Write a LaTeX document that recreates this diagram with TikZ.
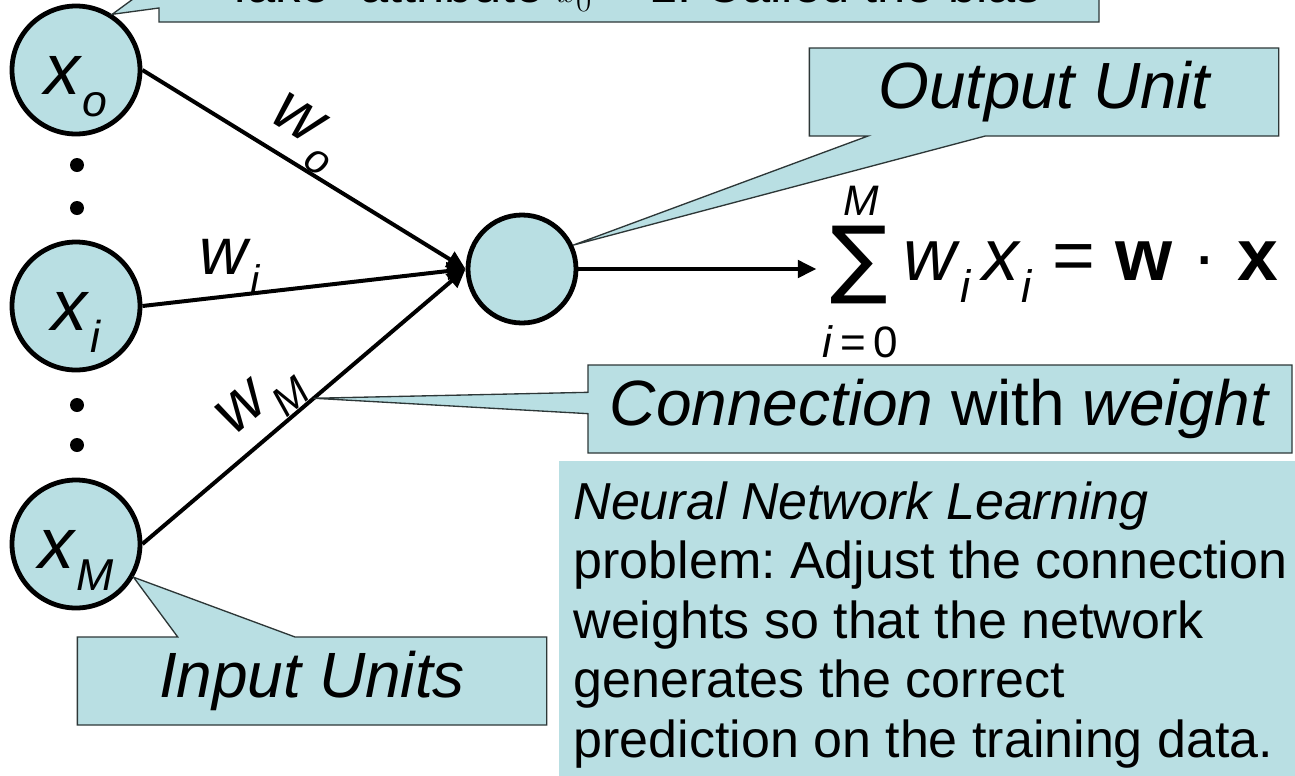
\documentclass[tikz,border=0pt]{standalone}
\usepackage{fontspec}
\usepackage{graphicx}
\setmainfont{Liberation Sans}
\newfontfamily\sigmafont{DejaVu Sans}
\usetikzlibrary{shapes.callouts,arrows.meta}
\definecolor{unitblue}{RGB}{185,223,227}
\definecolor{noteedge}{RGB}{45,55,55}
\newcommand\lowsub[1]{\raisebox{-0.3em}{\scalebox{0.62}{\itshape #1}}}
\frenchspacing

\tikzset{every picture/.style={line width=0.75pt}}
\tikzset{
	unit/.style={circle, draw=black, line width=3.6pt, fill=unitblue, minimum size=96pt, inner sep=0pt, text height=38pt, text depth=1pt, font=\fontsize{54}{60}\selectfont},
	note/.style={rectangle callout, draw=noteedge, fill=unitblue, line width=1pt, inner sep=0pt},
	link/.style={line width=3pt, -{Triangle[length=14pt,width=13pt]}},
	wlabel/.style={font=\fontsize{50}{56}\selectfont, inner sep=0pt}}

\begin{document}
\begin{tikzpicture}[x=0.75pt,y=0.75pt,yscale=-1,xscale=1]
	\useasboundingbox (0,0) rectangle (1295,775);
	\clip (0,0) rectangle (1295,775);

	%Shape: Rectangle [learning note, runs off the page]
	\node[fill=unitblue, inner sep=0pt, minimum width=555pt, minimum height=240pt, anchor=north west] (learnbox) at (558,460) {};
	% Text Node
	\node[anchor=north west, align=left, inner sep=0pt, font=\fontsize{39}{44.6}\selectfont] (learntext) at (573,481) {\textit{Neural Network Learning}\\problem: Adjust the connection\\weights so that the network\\generates the correct\\prediction on the training data.};

	%Shape: Circle [input and output units]
	\node[unit] (xo) at (76,70) {\textit{x}\lowsub{o}};
	\node[unit] (xi) at (76,306) {\textit{x}\lowsub{i}};
	\node[unit] (xM) at (76,544) {\textit{x}\lowsub{M}};
	\node[unit, minimum size=81pt] (out) at (522,269) {};
	% dots between the inputs
	\foreach \y in {165,208,405,445}
		\fill (77,\y) circle (7);

	%Straight Lines [weighted connections]
	\draw[link] (xo.east) -- node[wlabel, rotate=-32, anchor=south, pos=0.45] (wo) {\textit{w}\lowsub{o}} (out.west);
	\draw[link] (xi.east) -- node[wlabel, anchor=south, pos=0.27] (wi) {\textit{w}\lowsub{i}} (out.west);
	\draw[link] (xM.east) -- node[wlabel, rotate=40, anchor=south, pos=0.43] (wM) {\textit{w}\lowsub{M}} coordinate[pos=0.53] (wMtip) (out.west);

	% Text Node [weighted sum]
	\node[inner xsep=10pt, inner ysep=0pt] (sigma) at (859,265) {\fontsize{64}{70}\sigmafont\selectfont ∑};
	\node[inner sep=0pt, font=\fontsize{32}{36}\selectfont\itshape] (upper) at (861,201) {M};
	\node[inner sep=0pt, font=\fontsize{33}{36}\selectfont] (lower) at (860,342) {\textit{i}\,=\,0};
	\node[anchor=base west, inner sep=0pt, font=\fontsize{55}{60}\selectfont] (sumtext) at (903,280) {\textit{w}\lowsub{i}\,\textit{x}\lowsub{i} = \textbf{w} · \textbf{x}};
	\draw[link] (out.east) -- (out.east -| sigma.west);

	%Shape: Callouts
	\node[note, callout absolute pointer={(xo.57)}, callout pointer width=21pt, minimum width=705pt, minimum height=54pt, text height=24pt, text depth=0pt, font=\fontsize{38}{44}\selectfont] (biasnote) at (629,-14) {“fake” attribute $x_0$ = 1. Called the bias};
	\node[note, callout absolute pointer={(out.25)}, callout pointer width=88pt, minimum width=352pt, minimum height=66pt, font=\fontsize{49}{56}\selectfont\itshape] (outnote) at (1044,92) {Output Unit};
	\node[note, callout absolute pointer={(wMtip)}, callout pointer width=16pt, minimum width=528pt, minimum height=66pt, font=\fontsize{48}{56}\selectfont] (connnote) at (940,409) {\textit{Connection} with \textit{weight}};
	\node[note, callout absolute pointer={(xM.-30)}, callout pointer width=88pt, minimum width=352pt, minimum height=66pt, font=\fontsize{48}{56}\selectfont\itshape] (innote) at (312,681) {Input Units};

\end{tikzpicture}
\end{document}
